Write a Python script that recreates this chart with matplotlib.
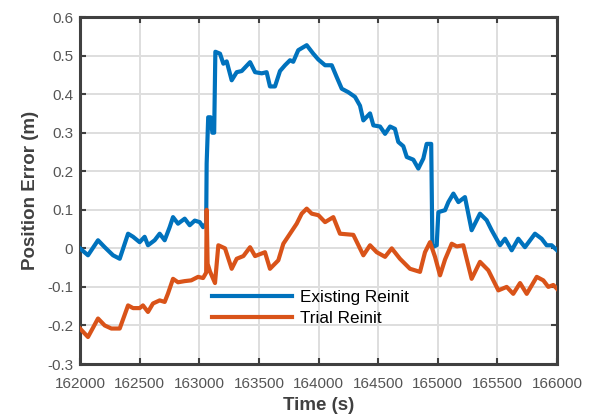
import numpy as np
import matplotlib
matplotlib.use("Agg")
import matplotlib.pyplot as plt

plt.rcParams['font.family'] = ['Liberation Sans', 'DejaVu Sans']

# time stamps (s) and position errors (m)
t_exist = [162000, 162067, 162151, 162207, 162277, 162333, 162403, 162445, 162500, 162542,
           162570, 162626, 162668, 162710, 162752, 162780, 162822, 162878, 162920, 162962,
           163004, 163032, 163058, 163062, 163075, 163095, 163110, 163125, 163135, 163174,
           163202, 163230, 163272, 163314, 163356, 163426, 163468, 163524, 163565, 163593,
           163635, 163677, 163719, 163761, 163788, 163830, 163901, 163956, 163998, 164055,
           164111, 164153, 164195, 164250, 164306, 164348, 164376, 164432, 164460, 164516,
           164558, 164600, 164641, 164669, 164711, 164740, 164795, 164837, 164879, 164907,
           164945, 164955, 164991, 165005, 165061, 165089, 165131, 165173, 165228, 165284,
           165354, 165410, 165452, 165522, 165564, 165620, 165675, 165731, 165815, 165871,
           165913, 165955, 166000]
e_exist = [0.000, -0.018, 0.021, 0.003, -0.018, -0.027, 0.038, 0.030, 0.016, 0.030,
           0.008, 0.021, 0.038, 0.021, 0.055, 0.081, 0.064, 0.077, 0.060, 0.072,
           0.068, 0.055, 0.065, 0.220, 0.340, 0.340, 0.300, 0.300, 0.510, 0.505,
           0.479, 0.485, 0.436, 0.457, 0.460, 0.483, 0.457, 0.454, 0.457, 0.420,
           0.420, 0.460, 0.475, 0.488, 0.484, 0.514, 0.527, 0.505, 0.490, 0.475,
           0.475, 0.444, 0.414, 0.405, 0.393, 0.370, 0.332, 0.350, 0.319, 0.316,
           0.297, 0.316, 0.310, 0.276, 0.265, 0.237, 0.230, 0.207, 0.233, 0.271,
           0.271, 0.003, 0.008, 0.094, 0.099, 0.120, 0.142, 0.120, 0.133, 0.047,
           0.090, 0.073, 0.047, 0.008, 0.025, -0.005, 0.025, 0.003, 0.038, 0.025,
           0.008, 0.008, -0.005]

t_trial = [162000, 162067, 162151, 162207, 162263, 162333, 162403, 162445, 162500, 162528,
           162570, 162612, 162668, 162710, 162738, 162780, 162822, 162878, 162933, 162990,
           163032, 163058, 163062, 163070, 163090, 163132, 163160, 163216, 163272, 163314,
           163370, 163426, 163468, 163551, 163593, 163663, 163705, 163761, 163817, 163859,
           163901, 163943, 163999, 164055, 164124, 164180, 164292, 164376, 164432, 164488,
           164558, 164614, 164683, 164767, 164851, 164893, 164935, 164977, 165019, 165061,
           165117, 165159, 165214, 165284, 165354, 165424, 165508, 165578, 165633, 165690,
           165746, 165830, 165885, 165927, 165969, 166000]
e_trial = [-0.208, -0.230, -0.182, -0.200, -0.208, -0.208, -0.148, -0.155, -0.155, -0.148,
           -0.165, -0.143, -0.135, -0.139, -0.117, -0.079, -0.088, -0.085, -0.083, -0.074,
           -0.077, -0.063, 0.100, -0.040, -0.060, -0.090, 0.008, 0.000, -0.053, -0.027,
           -0.020, 0.003, -0.020, -0.010, -0.053, -0.031, 0.012, 0.038, 0.064, 0.090,
           0.103, 0.090, 0.086, 0.068, 0.081, 0.038, 0.035, -0.018, 0.008, -0.010,
           -0.022, 0.000, -0.027, -0.053, -0.061, -0.010, 0.016, -0.022, -0.070, -0.029,
           0.012, 0.005, 0.008, -0.079, -0.035, -0.057, -0.109, -0.100, -0.118, -0.090,
           -0.118, -0.074, -0.083, -0.100, -0.095, -0.105]

fig = plt.figure(figsize=(5.9, 4.16), dpi=100)
ax = fig.add_axes([0.1356, 0.125, 0.8085, 0.834])

ax.plot(t_exist, e_exist, color='#0072BD', lw=3, label='Existing Reinit', zorder=3)
ax.plot(t_trial, e_trial, color='#D95319', lw=3, label='Trial Reinit', zorder=3)

ax.set_xlim(162000, 166000)
ax.set_ylim(-0.3, 0.6)
ax.set_xticks(np.arange(162000, 166001, 500))
ax.set_yticks(np.arange(-0.3, 0.61, 0.1))
ax.set_yticklabels(['-0.3', '-0.2', '-0.1', '0', '0.1', '0.2', '0.3', '0.4', '0.5', '0.6'])
ax.grid(True, color='#dedede', lw=1.4)
ax.set_axisbelow(True)
ax.tick_params(direction='in', length=4, width=1.5, colors='#404040',
               labelsize=11, top=True, right=True, labelcolor='#555555')
ax.tick_params(axis='x', pad=9)
ax.tick_params(axis='y', pad=5)
for s in ax.spines.values():
    s.set_linewidth(2.2)
    s.set_color('#404040')

ax.set_xlabel('Time (s)', fontsize=13.5, fontweight='bold', color='#404040', labelpad=5)
ax.set_ylabel('Position Error (m)', fontsize=13.5, fontweight='bold', color='#404040',
              labelpad=6)

ax.legend(loc='center left', bbox_to_anchor=(0.277, 0.162), frameon=False,
          fontsize=12.3, handlelength=4.7, handletextpad=0.45, labelspacing=0.35,
          borderpad=0, borderaxespad=0)

fig.savefig('out.png', dpi=100)
